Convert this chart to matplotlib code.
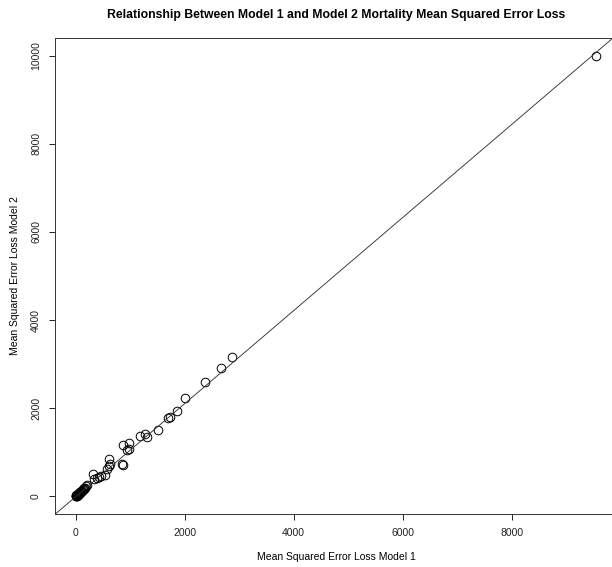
import numpy as np
import matplotlib.pyplot as plt

plt.rcParams['font.family'] = ['Liberation Sans', 'DejaVu Sans']

# mean squared error loss of the two mortality models, one entry per group
mse_model1 = [
    9550, 2866, 2660, 2381, 2006, 1868, 1730, 1700, 1515, 1306, 1265, 1190,
    987, 870, 980, 950, 620, 850, 865, 630, 605, 585, 545, 435, 400, 340,
    324, 470, 208, 158, 98, 60, 35, 5,
    10, 15, 20, 25, 30, 40, 45, 50, 60, 70, 80, 90, 100, 110, 130, 140,
    150, 170, 190, 12, 22, 55, 75,
]
mse_model2 = [
    10000, 3165, 2905, 2589, 2240, 1938, 1803, 1785, 1510, 1350, 1420, 1360,
    1210, 1160, 1070, 1050, 855, 745, 715, 740, 680, 620, 485, 450, 410, 400,
    497, 470, 255, 181, 120, 80, 40, 10,
    5, 20, 15, 30, 25, 50, 40, 60, 55, 80, 75, 100, 95, 130, 140, 160,
    170, 200, 230, 0, 10, 45, 90,
]

# least squares line of model 2 on model 1
fit_intercept = -10
fit_slope = 1.056

x = np.array(mse_model1)
y = np.array(mse_model2)

fig = plt.figure(figsize=(6.12, 5.67), dpi=100)
ax = fig.add_axes([55 / 612, 1 - 514 / 567, (617 - 55) / 612, (514 - 38) / 567])

ax.plot(x, y, 'o', mfc='none', mec='black', ms=6.2, mew=0.7)
ax.axline((0, fit_intercept), slope=fit_slope, color='#333333', lw=0.65)

# pad the data range by 4% on each side
xr = x.max() - x.min()
yr = y.max() - y.min()
ax.set_xlim(x.min() - 0.04 * xr, x.max() + 0.04 * xr)
ax.set_ylim(y.min() - 0.04 * yr, y.max() + 0.04 * yr)

ax.set_xticks([0, 2000, 4000, 6000, 8000])
ax.set_yticks([0, 2000, 4000, 6000, 8000, 10000])
for lab in ax.get_yticklabels():
    lab.set_rotation(90)
    lab.set_va('center')

ax.tick_params(direction='out', length=4, width=0.7, labelsize=7.5, pad=6,
               colors='#222222')
for s in ax.spines.values():
    s.set_linewidth(0.7)
    s.set_color('#333333')

ax.set_xlabel('Mean Squared Error Loss Model 1', fontsize=7.5, labelpad=10)
ax.set_ylabel('Mean Squared Error Loss Model 2', fontsize=7.5, labelpad=8)
fig.text(336 / 612, 1 - 15 / 567,
         'Relationship Between Model 1 and Model 2 Mortality Mean Squared Error Loss',
         ha='center', va='center', fontsize=8.8, fontweight='bold')

fig.savefig('out.png', dpi=100)
